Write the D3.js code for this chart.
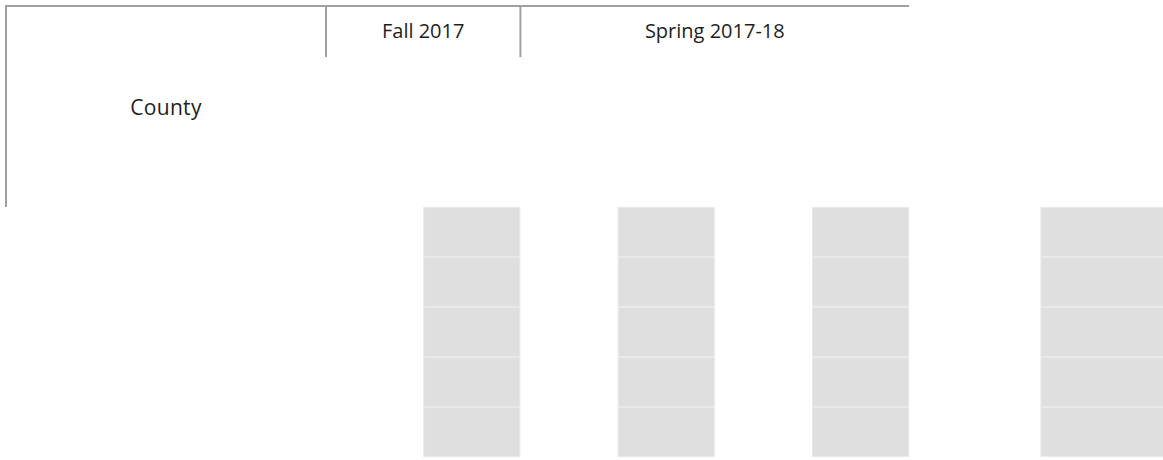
<!DOCTYPE html>
<html>
<head>
<meta charset="utf-8">
<script src="https://cdn.jsdelivr.net/npm/d3@7"></script>
<style>
  body { margin: 0; background: #fff; }
  text { font-family: "Open Sans", "Noto Sans", sans-serif; fill: #1e1e1e; }
</style>
</head>
<body>
<svg id="chart" width="1163" height="460"></svg>
<script>
'use strict';

// header labels of the table
var rowHeader = "County";
var termHeaders = ["Fall 2017", "Spring 2017-18"];
// placeholder rows (no values loaded yet)
var rows = ["", "", "", "", ""];
// placeholder columns, in quarter-column slots from the left of "Fall 2017"
var cellSlots = [1, 3, 5, 7.35];

(function() {
    var svg = d3.select("#chart"),
        lineColor = "#a0a0a0",
        cellFill = "#dfdfdf",
        cellStroke = "#e9e9e9";

    // layout
    var padLeft = 6, padTop = 6, headEnd = 57, tableBottom = 207, tableRight = 909,
        firstTerm = 326, slotW = 97.2;

    var xSlot = d3.scaleLinear().domain([0, 1]).range([firstTerm, firstTerm + slotW]);
    var y = d3.scaleBand().domain(d3.range(rows.length)).range([tableBottom, tableBottom + 250]);

    // term columns: Fall spans 2 slots, Spring spans 4
    var termSpan = [[0, 2], [2, 6]];

    // borders
    svg.append("line")
        .attr("x1", padLeft - 1).attr("x2", tableRight)
        .attr("y1", padTop).attr("y2", padTop)
        .style("stroke", lineColor).style("stroke-width", 2);
    svg.append("line")
        .attr("x1", padLeft).attr("x2", padLeft)
        .attr("y1", padTop - 1).attr("y2", tableBottom)
        .style("stroke", lineColor).style("stroke-width", 2);

    svg.selectAll(".divider")
        .data(termSpan)
        .enter().append("line")
        .attr("class", "divider")
        .attr("x1", function(d) { return xSlot(d[0]); })
        .attr("x2", function(d) { return xSlot(d[0]); })
        .attr("y1", padTop).attr("y2", headEnd)
        .style("stroke", lineColor).style("stroke-width", 2);

    svg.selectAll(".termLabel")
        .data(termHeaders)
        .enter().append("text")
        .attr("class", "termLabel")
        .attr("x", function(d, i) { return (xSlot(termSpan[i][0]) + xSlot(termSpan[i][1])) / 2; })
        .attr("y", 38)
        .style("text-anchor", "middle")
        .style("font-size", "20px")
        .text(function(d) { return d; });

    svg.append("text")
        .attr("x", 166).attr("y", 115)
        .style("text-anchor", "middle")
        .style("font-size", "21px")
        .style("letter-spacing", "0.3px")
        .text(rowHeader);

    // placeholder cells
    var col = svg.selectAll(".cellCol")
        .data(cellSlots)
        .enter().append("g")
        .attr("class", "cellCol")
        .attr("transform", function(d) { return "translate(" + xSlot(d) + ",0)"; });

    col.selectAll("rect")
        .data(function(d, i) { return rows.map(function() { return i; }); })
        .enter().append("rect")
        .attr("x", 0.5)
        .attr("y", function(d, i) { return y(i) + 0.5; })
        .attr("width", function(d) { return d === cellSlots.length - 1 ? 125 : slotW - 1; })
        .attr("height", y.bandwidth() - 1)
        .style("fill", cellFill)
        .style("stroke", cellStroke);
})();
</script>
</body>
</html>
